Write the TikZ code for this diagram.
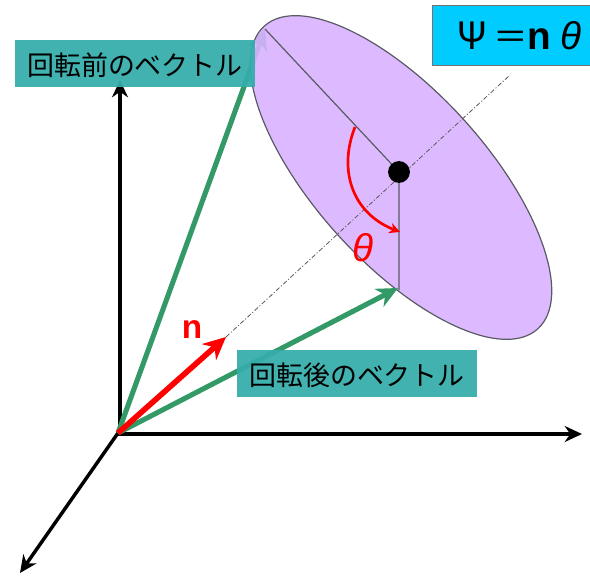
\documentclass[tikz,border=0pt]{standalone}
\usepackage{fontspec}
\setmainfont{Noto Sans}
\newfontfamily\jpfont{Noto Sans CJK JP}
\newfontfamily\thetafont{Liberation Sans}
\usetikzlibrary{arrows.meta}
\definecolor{tealbox}{HTML}{35ADAB}
\definecolor{cyanbox}{HTML}{00CCFF}
\definecolor{vecgreen}{HTML}{339966}
\definecolor{discfill}{HTML}{D9B3FF}
\definecolor{discedge}{HTML}{5A5A64}
\tikzset{
  axisarrow/.style={draw=black,line width=2.6pt,-{Stealth[length=13pt,width=12pt]}},
  vecarrow/.style={draw=vecgreen,line width=3.8pt,-{Stealth[length=16pt,width=15pt]}},
  narrow/.style={draw=red,line width=4.2pt,-{Stealth[length=17pt,width=16pt]}},
  labelbox/.style={fill=tealbox,fill opacity=0.94,text opacity=1,text=black,inner sep=0pt,anchor=center,font=\jpfont\fontsize{20.2}{20.2}\selectfont},
  discline/.style={draw=discedge,line width=0.9pt},
}
\begin{document}
\begin{tikzpicture}[x=0.75pt,y=0.75pt]
\useasboundingbox (0,0) rectangle (590,-582);
\coordinate (O) at (118,-433);
\coordinate (ybase) at (120,-434);
\coordinate (yt) at (120,-80);
\coordinate (xbase) at (118,-434);
\coordinate (xt) at (582,-434);
\coordinate (zt) at (20,-573);
\coordinate (before) at (265,-29);
\coordinate (after) at (398,-288);
\coordinate (nt) at (226,-337);
\coordinate (axisend) at (510,-75);
\coordinate (center) at (399,-172);
\coordinate (disc) at (401,-177.5);
\coordinate (rimtop) at (265,-29);
\coordinate (rimlow) at (399,-290);
\coordinate (arcstart) at (355,-127);
\coordinate (arcend) at (400,-232);
% axes
\draw[axisarrow] (ybase) -- (yt);
\draw[axisarrow] (xbase) -- (xt);
\draw[axisarrow] (O) -- (zt);
% rotated-before vector, under the disc
\draw[vecarrow] (O) -- (before);
% disc
\path[fill=discfill,fill opacity=0.9] (disc) ellipse[x radius=153pt,y radius=64pt,rotate=-47.9];
\draw[discline] (disc) ellipse[x radius=153pt,y radius=64pt,rotate=-47.9];
% axis line
\draw[draw=black!65,line width=0.6pt,dash pattern=on 3.5pt off 1.5pt on 0.8pt off 1.5pt] (nt) -- (axisend);
% radii
\draw[discline] (rimtop) -- (center) -- (rimlow);
\fill[black] (center) circle[radius=8.2pt];
% after and n vectors
\draw[vecarrow] (O) -- (after);
\draw[narrow] (O) -- (nt);
% angle arc
\draw[red,line width=2pt,-{Stealth[length=8pt,width=8pt]}] (arcstart) .. controls (338,-170) and (352,-213) .. (arcend);
% labels
\node[text=red,font=\thetafont\itshape\fontsize{29}{29}\selectfont,inner sep=0pt] (theta) at (363,-248) {θ};
\node[text=red,font=\thetafont\bfseries\fontsize{25}{25}\selectfont,inner sep=0pt] (nlabel) at (192,-330) {n};
\node[labelbox,minimum width=180pt,minimum height=35pt] (boxa) at (135,-63.5) {\raisebox{-8.8pt}[0pt][0pt]{回転前のベクトル}};
\node[labelbox,minimum width=180pt,minimum height=35pt] (boxb) at (357,-373.5) {\raisebox{-8.8pt}[0pt][0pt]{回転後のベクトル}};
\node[draw=black!55,line width=0.9pt,fill=cyanbox,minimum width=130pt,minimum height=45pt,inner sep=0pt] (eq) at (519,-35.5) {\fontsize{29}{29}\selectfont Ψ\hspace{4pt}{\jpfont\fontsize{26}{26}\selectfont ＝}\hspace{-1pt}{\thetafont\bfseries n}\hspace{7pt}{\thetafont\itshape θ}\hspace{11pt}};
\end{tikzpicture}
\end{document}
